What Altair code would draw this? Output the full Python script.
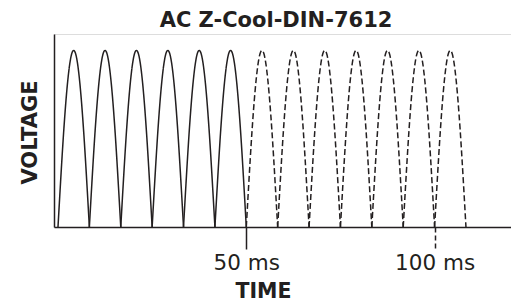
import altair as alt
import pandas as pd

# Cusp times (ms) of the full-wave rectified voltage
cusp_ms = [0, 8.33, 16.67, 25, 33.33, 41.67, 50, 58.33, 66.67, 75, 83.33, 91.67, 100, 108.33]
# Style of each hump between consecutive cusps
hump_style = ["solid"] * 6 + ["dashed"] * 7
# Shape of one hump (relative voltage), sampled across the hump
hump_profile = [0, 0.195, 0.383, 0.556, 0.707, 0.831, 0.924, 0.981, 1.0,
                0.981, 0.924, 0.831, 0.707, 0.556, 0.383, 0.195, 0]
tick_values = [50, 100]

rows = []
n = len(hump_profile) - 1
for i, style in enumerate(hump_style):
    t0, t1 = cusp_ms[i], cusp_ms[i + 1]
    for k, v in enumerate(hump_profile):
        rows.append({"t": t0 + (t1 - t0) * k / n, "v": v, "hump": i, "style": style})
df = pd.DataFrame(rows)

INK = "#231f20"
FONT = "DejaVu Sans"

chart = alt.Chart(df).mark_line(strokeWidth=1.5, color=INK, interpolate="monotone").encode(
    x=alt.X("t:Q",
            scale=alt.Scale(domain=[-1.06, 120.29], nice=False, zero=False),
            axis=alt.Axis(values=tick_values, labelExpr="datum.value + ' ms'",
                          grid=False, tickSize=22, tickWidth=1.5, tickColor=INK,
                          tickDash={"condition": {"test": "datum.value === 100", "value": [5, 3]}, "value": [1, 0]},
                          domainColor=INK, domainWidth=1.5,
                          labelFont=FONT, labelFontSize=21.5, labelColor=INK,
                          labelBaseline="alphabetic", labelPadding=20.5, labelFlush=False,
                          title="TIME", titleFont=FONT, titleFontSize=20.5, titleFontWeight="bold",
                          titleColor=INK, titleX=209, titleY=70, titleAlign="center",
                          titleBaseline="alphabetic")),
    y=alt.Y("v:Q",
            scale=alt.Scale(domain=[0, 1.093], nice=False, zero=True),
            axis=alt.Axis(grid=False, ticks=False, labels=False,
                          domainColor=INK, domainWidth=1.5,
                          title="VOLTAGE", titleFont=FONT, titleFontSize=21, titleFontWeight="bold",
                          titleColor=INK, titleAngle=-90, titleX=-17.3, titleY=98,
                          titleAlign="center", titleBaseline="alphabetic")),
    detail="hump:N",
    strokeDash=alt.StrokeDash("style:N",
                              scale=alt.Scale(domain=["solid", "dashed"], range=[[1, 0], [6, 3]]),
                              legend=None),
).properties(
    width=457,
    height=193,
    title=alt.TitleParams("AC Z-Cool-DIN-7612", font=FONT, fontSize=21, fontWeight="bold",
                          color=INK, anchor="middle", frame="group", dx=-6.5, offset=-13.5,
                          baseline="alphabetic"),
    padding={"left": 46, "top": 26, "right": 0, "bottom": 75},
    autosize=alt.AutoSizeParams(type="none"),
).configure_view(stroke=None).configure(background="white")

chart.save("out.html", embed_options={"renderer": "svg", "actions": False})
